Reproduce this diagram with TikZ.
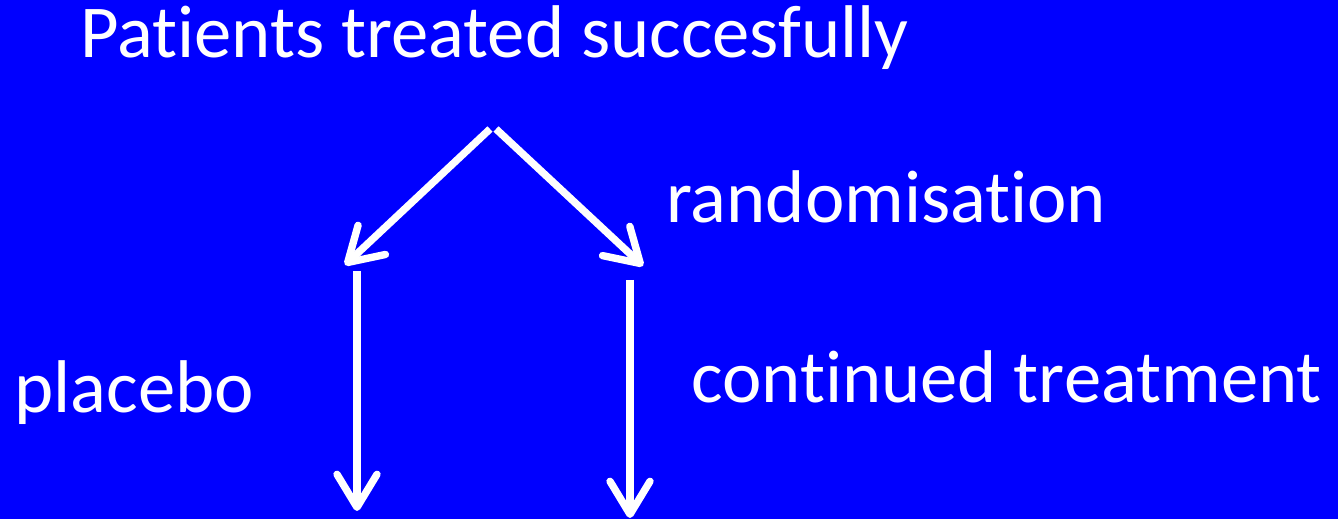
\documentclass[tikz,border=0pt]{standalone}
\usepackage{fontspec}
\setmainfont{Carlito}[Ligatures={NoCommon}]
\usetikzlibrary{arrows.meta}

\begin{document}
\begin{tikzpicture}[x=0.02cm, y=-0.02cm,
    label/.style={text=white, inner sep=0pt, anchor=base west, font=\fontsize{42.5}{51}\selectfont},
    flow/.style={draw=white, line width=4.2pt, -{Straight Barb[round, length=0.66cm, width=0.8cm]}}]
  \fill[blue] (0,0) rectangle (1338,519);
  \useasboundingbox (0,0) rectangle (1338,519);
  % texts
  \node[label] (title) at (80,58) {Patients treated succesfully};
  \node[label] (rand) at (666,223) {randomisation};
  \node[label] (placebo) at (14,413) {placebo};
  \node[label] (cont) at (691,403) {continued treatment};
  % points of the arrows
  \coordinate (splitL) at (490,129);
  \coordinate (splitR) at (496,129);
  \coordinate (armL) at (345,265);
  \coordinate (armR) at (643,266);
  \coordinate (placeboTop) at (357,271);
  \coordinate (placeboEnd) at (357,511);
  \coordinate (contTop) at (630,280);
  \coordinate (contEnd) at (630,518);
  \draw[flow] (splitL) -- (armL);
  \draw[flow] (splitR) -- (armR);
  \draw[flow] (placeboTop) -- (placeboEnd);
  \draw[flow] (contTop) -- (contEnd);
\end{tikzpicture}
\end{document}
